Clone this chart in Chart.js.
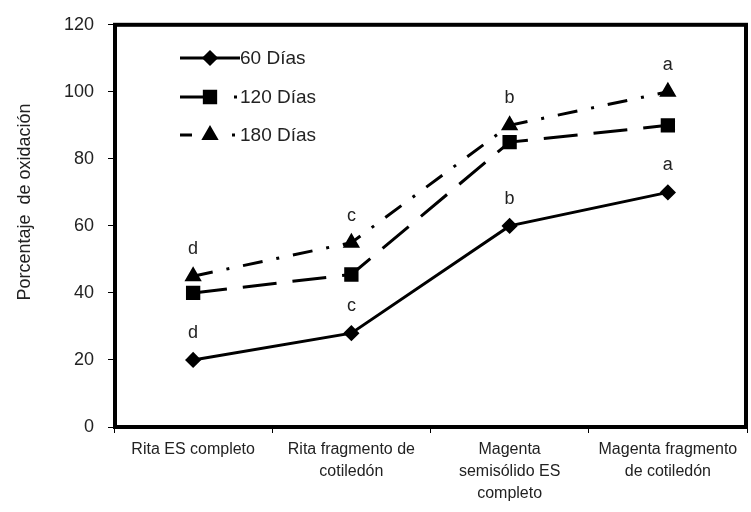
<!DOCTYPE html>
<html>
<head>
<meta charset="utf-8">
<script src="https://cdn.jsdelivr.net/npm/chart.js@4.4.1/dist/chart.umd.min.js"></script>
<style>
  html, body { margin: 0; padding: 0; background: #fff; overflow: hidden; }
  #wrap { width: 758px; height: 512px; }
</style>
</head>
<body>
<div id="wrap"><canvas id="chart"></canvas></div>
<script>
// data
const categories = [
  ['Rita ES completo'],
  ['Rita fragmento de', 'cotiledón'],
  ['Magenta', 'semisólido ES', 'completo'],
  ['Magenta fragmento', 'de cotiledón']
];
const dias60  = [20, 28, 60, 70];
const dias120 = [40, 45.5, 85, 90];
const dias180 = [45, 55, 90, 100];
const letras60  = ['d', 'c', 'b', 'a'];
const letras180 = ['d', 'c', 'b', 'a'];
const yMin = 0, yMax = 120, yStep = 20;

const FONT = "'Liberation Sans', Arial, sans-serif";
const INK = '#222';

// thick box round the plot area
const framePlugin = {
  id: 'frame',
  afterDraw(chart) {
    const { ctx, chartArea: a } = chart;
    ctx.save();
    ctx.strokeStyle = '#000';
    ctx.lineWidth = 4;
    ctx.strokeRect(a.left + 1, a.top, a.right - a.left - 2, a.bottom - a.top);
    ctx.restore();
  }
};

// significance letters above the 60 and 180 day points
const lettersPlugin = {
  id: 'letters',
  afterDatasetsDraw(chart) {
    const ctx = chart.ctx;
    ctx.save();
    ctx.fillStyle = INK;
    ctx.font = '18px ' + FONT;
    ctx.textAlign = 'center';
    ctx.textBaseline = 'bottom';
    [[0, letras60], [2, letras180]].forEach(function(pair) {
      const meta = chart.getDatasetMeta(pair[0]);
      meta.data.forEach(function(pt, i) {
        ctx.fillText(pair[1][i], pt.x, pt.y - 18);
      });
    });
    ctx.restore();
  }
};

// legend drawn inside the plot, line sample + marker
const legendPlugin = {
  id: 'boxLegend',
  afterDraw(chart) {
    const ctx = chart.ctx;
    const rows = [58, 97, 135];
    ctx.save();
    chart.data.datasets.forEach(function(ds, i) {
      const y = rows[i];
      ctx.strokeStyle = '#000';
      ctx.lineWidth = 3;
      ctx.setLineDash(ds.legendDash);
      ctx.beginPath();
      ctx.moveTo(180, y);
      ctx.lineTo(240, y);
      ctx.stroke();
      ctx.setLineDash([]);
      ctx.fillStyle = '#000';
      Chart.helpers.drawPoint(ctx, {
        pointStyle: ds.pointStyle, radius: ds.pointRadius, rotation: 0, borderWidth: 1
      }, 210, y);
      ctx.fillStyle = INK;
      ctx.font = '19px ' + FONT;
      ctx.textAlign = 'left';
      ctx.textBaseline = 'middle';
      ctx.fillText(ds.label, 240, y + 1);
    });
    ctx.restore();
  }
};

// rotated y axis title
const yTitlePlugin = {
  id: 'yTitle',
  afterDraw(chart) {
    const ctx = chart.ctx;
    ctx.save();
    ctx.translate(25, 202);
    ctx.rotate(-Math.PI / 2);
    ctx.fillStyle = INK;
    ctx.font = '18px ' + FONT;
    ctx.textAlign = 'center';
    ctx.textBaseline = 'middle';
    ctx.fillText('Porcentaje  de oxidación', 0, 0);
    ctx.restore();
  }
};

new Chart(document.getElementById('chart').getContext('2d'), {
  type: 'line',
  data: {
    labels: categories,
    datasets: [
      { label: '60 Días', data: dias60, borderColor: '#000', backgroundColor: '#000',
        borderWidth: 3, pointStyle: 'rectRot', pointRadius: 6, legendDash: [] },
      { label: '120 Días', data: dias120, borderColor: '#000', backgroundColor: '#000',
        borderWidth: 3, borderDash: [34, 16], pointStyle: 'rect', pointRadius: 8,
        legendDash: [26, 28, 3, 10] },
      { label: '180 Días', data: dias180, borderColor: '#000', backgroundColor: '#000',
        borderWidth: 3, borderDash: [20, 14, 3, 14], pointStyle: 'triangle', pointRadius: 7,
        legendDash: [12, 40, 3, 10] }
    ]
  },
  options: {
    responsive: true,
    maintainAspectRatio: false,
    animation: false,
    events: [],
    layout: { padding: { top: 20, right: 0, left: 0, bottom: 0 } },
    plugins: { legend: { display: false }, tooltip: { enabled: false } },
    elements: { line: { tension: 0 }, point: { borderWidth: 1 } },
    scales: {
      x: {
        offset: true,
        grid: { display: true, offset: true, drawOnChartArea: false, drawTicks: true,
                tickLength: 6, color: '#000', lineWidth: 1 },
        border: { display: false },
        ticks: { color: INK, font: { family: FONT, size: 16, lineHeight: 1.4 },
                 maxRotation: 0, minRotation: 0, autoSkip: false, padding: 5 },
        afterFit(scale) {
          scale.height = 85;
          scale.paddingLeft = 0;
          scale.paddingRight = 0;
        }
      },
      y: {
        min: yMin, max: yMax,
        grid: { display: true, drawOnChartArea: false, drawTicks: true,
                tickLength: 6, color: '#000', lineWidth: 1 },
        border: { display: false },
        ticks: { stepSize: yStep, color: INK, padding: 14,
                 font: { family: FONT, size: 18 } },
        afterFit(scale) { scale.width = 114; }
      }
    }
  },
  plugins: [framePlugin, lettersPlugin, legendPlugin, yTitlePlugin]
});
</script>
</body>
</html>
